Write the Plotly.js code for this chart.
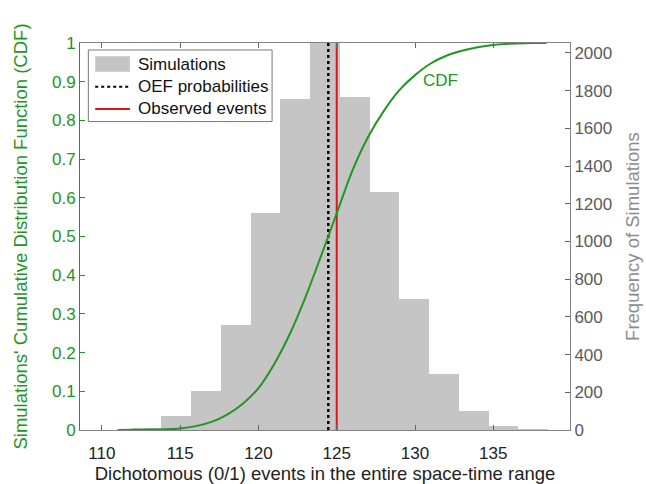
<!DOCTYPE html>
<html>
<head>
<meta charset="utf-8">
<script src="https://cdn.plot.ly/plotly-3.0.1.min.js"></script>
<style>html,body{margin:0;padding:0;background:#fff;}#chart{width:646px;height:484px;}</style>
</head>
<body>
<div id="chart"></div>
<script>
// Histogram bins (centers) and counts
const binCenters = [112.85, 114.75, 116.65, 118.55, 120.45, 122.35, 124.25, 126.15, 128.05, 129.95, 131.85, 133.75, 135.65, 137.55];
const binCounts = [8, 76, 207, 557, 1153, 1756, 2100, 1765, 1264, 693, 295, 101, 21, 5];
const binWidth = 1.9;

// CDF
const cdfX = [111, 112, 113, 114, 115, 116, 117, 118, 119, 120, 121, 122, 123, 124, 125, 126, 127, 128, 129, 130, 131, 132, 133, 134, 135, 136, 137, 138, 138.4];
const cdfY = [0, 0.0005, 0.001, 0.002, 0.004, 0.010, 0.021, 0.040, 0.068, 0.108, 0.170, 0.248, 0.343, 0.450, 0.560, 0.670, 0.757, 0.824, 0.878, 0.917, 0.947, 0.967, 0.980, 0.989, 0.995, 0.998, 0.9995, 1.0, 1.0];

const oefValue = 124.46;
const observedValue = 125.0;

const xTicks = [110, 115, 120, 125, 130, 135];
const legendLabels = ['Simulations', 'OEF probabilities', 'Observed events'];

const green = 'rgb(34,150,34)';
const gray = 'rgb(100,100,100)';
const barColor = 'rgb(197,197,197)';
const redColor = 'rgb(215,25,25)';

const traces = [
  {type: 'bar', x: binCenters, y: binCounts, width: binWidth, name: legendLabels[0],
   marker: {color: barColor, line: {width: 0}}, xaxis: 'x', yaxis: 'y'},
  {type: 'scatter', mode: 'lines', x: [oefValue, oefValue], y: [0, 2053], name: legendLabels[1],
   line: {color: 'black', width: 2.5, dash: 'dot'}, xaxis: 'x', yaxis: 'y'},
  {type: 'scatter', mode: 'lines', x: [observedValue, observedValue], y: [0, 2053], name: legendLabels[2],
   line: {color: redColor, width: 2}, xaxis: 'x', yaxis: 'y'},
  {type: 'scatter', mode: 'lines', x: cdfX, y: cdfY, name: 'CDF',
   line: {color: green, width: 2, shape: 'spline', smoothing: 0.8}, xaxis: 'x', yaxis: 'y2'}
];

const font = 'Liberation Sans, Arial, Helvetica, sans-serif';

// manual legend (paper coordinates)
const legRows = [0.9457, 0.887, 0.8295];
const shapes = [
  {type: 'rect', xref: 'paper', yref: 'paper', x0: 0.017, x1: 0.392, y0: 0.797, y1: 0.982,
   fillcolor: 'white', line: {color: 'rgb(120,120,120)', width: 1}, layer: 'above'},
  {type: 'rect', xref: 'paper', yref: 'paper', x0: 0.031, x1: 0.102, y0: legRows[0] - 0.02, y1: legRows[0] + 0.02,
   fillcolor: barColor, line: {width: 0}, layer: 'above'},
  {type: 'line', xref: 'paper', yref: 'paper', x0: 0.031, x1: 0.102, y0: legRows[1], y1: legRows[1],
   line: {color: 'black', width: 2, dash: 'dot'}, layer: 'above'},
  {type: 'line', xref: 'paper', yref: 'paper', x0: 0.031, x1: 0.102, y0: legRows[2], y1: legRows[2],
   line: {color: redColor, width: 2}, layer: 'above'}
];

const annotations = legendLabels.map((t, i) => ({
  xref: 'paper', yref: 'paper', x: 0.1153, y: legRows[i], xanchor: 'left', yanchor: 'middle',
  text: t, showarrow: false, font: {size: 17, color: '#111'}
}));
annotations.push({x: 131.6, y: 0.904, xref: 'x', yref: 'y2', text: 'CDF', showarrow: false,
  font: {size: 17, color: green}});

const layout = {
  width: 646, height: 484,
  margin: {l: 80, r: 76, t: 43, b: 54},
  paper_bgcolor: 'white', plot_bgcolor: 'white',
  font: {family: font, size: 17, color: '#222'},
  showlegend: false,
  bargap: 0,
  xaxis: {
    range: [108.6, 139.9], tickvals: xTicks,
    ticks: 'inside', ticklen: 5, tickcolor: gray, showgrid: false, zeroline: false,
    showline: true, linecolor: 'rgb(130,130,130)', linewidth: 1, mirror: 'ticks',
    tickfont: {size: 17, color: '#222'}, ticklabelstandoff: 8,
    title: {text: 'Dichotomous (0/1) events in the entire space-time range', font: {size: 18.5, color: '#222'}, standoff: 2}
  },
  yaxis: {
    range: [0, 2053], side: 'right', dtick: 200, tick0: 0,
    ticks: 'inside', ticklen: 5, tickcolor: gray, showgrid: false, zeroline: false,
    showline: true, linecolor: 'rgb(130,130,130)', linewidth: 1,
    tickfont: {size: 17, color: 'rgb(90,90,90)'},
    title: {text: 'Frequency of Simulations', font: {size: 18.5, color: 'rgb(140,140,140)'}, standoff: 14}
  },
  yaxis2: {
    range: [0, 1], overlaying: 'y', side: 'left', dtick: 0.1, tick0: 0,
    ticks: 'inside', ticklen: 5, tickcolor: green, showgrid: false, zeroline: false,
    showline: true, linecolor: green, linewidth: 1,
    tickfont: {size: 17, color: green},
    title: {text: "Simulations' Cumulative Distribution Function (CDF)", font: {size: 18.5, color: green}, standoff: 19}
  },
  shapes: shapes,
  annotations: annotations
};

Plotly.newPlot('chart', traces, layout, {displayModeBar: false, staticPlot: true});
</script>
</body>
</html>
